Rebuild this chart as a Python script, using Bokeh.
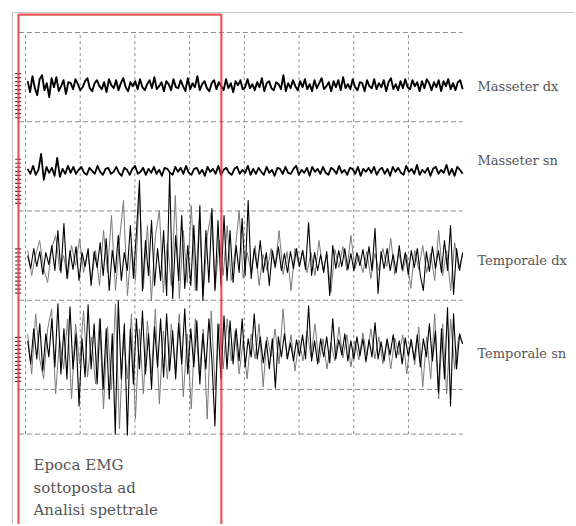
import numpy as np
from bokeh.plotting import figure
from bokeh.models import Range1d
from bokeh.core.properties import value
from bokeh.embed import file_html
from bokeh.resources import INLINE

# ---------------- data ----------------
channels = ["Masseter dx", "Masseter sn", "Temporale dx", "Temporale sn"]
offsets = [3.41, 2.45, 1.445, 0.455]          # baseline of each trace (grid units)
label_y = [3.39, 2.57, 1.44, 0.405]           # label vertical position
t_start, t_end = 0.04, 7.99                    # time span of recordings (grid units)
time_grid = [0, 1, 2, 3, 4, 5, 6, 7]
amp_grid = [4, 3, 2, 1, 0, -0.5]
epoch = [-0.128, 3.58]                         # EMG epoch used for spectral analysis
gain = 1 / 89.25                               # amplitude units -> grid units

masseter_dx = [4, -7, 9, -3, -10, 6, 10, -5, 2, -12, 7, -2, 8, -6, -1, 5, -9, 3,
               2, -4, 6, 1, -5, -2, 4, 7, -3, -6, 2, 5, -1, -4, 3, -7, 6, 0, -3, 5,
               -5, 2, 7, -2, -6, 3, -1, 4, -4, 6, -2, -5, 1, 5, -3, 8, -4, -1, 3, -6,
               4, 1, -5, 6, -2, -3, 5, -1, -6, 7, -4, 2, -2, 9, -5, 1, 4, -3, -6, 2,
               5, -4, 3, -1, -5, 6, -3, 2, -7, 4, 0, 5, -4, -2, 6, -3, 1, -5, 3, -2,
               7, -6, 2, 4, -3, -5, 3, 1, -4, 10, -6, 2, -3, 5, -1, -5, 4, -2, 6, -4,
               1, -6, 5, -3, 2, 7, -4, -1, 3, -6, 4, -2, 5, -5, 8, -3, 1, -4, 6, -2,
               -5, 3, 2, -6, 5, -1, -3, 6, -4, 2, -2, 5, -6, 3, 7, -4, 1, -5, 4, -3,
               6, -2, -4, 5, -1, 3, -6, 4, -3, 6, 2, -5, 3, -2, 5, -6, 4, -1, 6, -4,
               2, -5, 3, 5, -4]

masseter_sn = [2, -3, 5, -4, 1, 17, -9, 4, -2, 3, -5, 13, -6, 2, -3, 5, -2, 4,
               -3, 1, 4, -2, -4, 3, 0, -3, 5, -1, -4, 2, 3, -3, -1, 4, -2, -5, 3, 1,
               -4, 2, 5, -3, -1, 3, -4, 2, -2, 4, -3, 1, -5, 3, 2, -2, -4, 4, -1, 3,
               -3, 5, -2, -4, 2, 3, -3, 1, -5, 4, -1, 2, -3, 5, -4, 1, 3, -2, -4, 2,
               4, -3, 1, -2, 5, -4, 2, -3, 3, -1, -4, 4, -2, 1, -5, 3, 2, -3, 4, -2,
               -3, 2, 5, -4, 1, -2, 3, -5, 4, -1, 2, -3, 4, -2, -4, 3, 1, -3, 5, -2,
               1, -4, 3, 2, -3, 4, -5, 2, -1, 3, -2, 4, -4, 1, 3, -3, 2, -5, 4, -1,
               3, -2, -4, 5, -1, 2, -3, 6, -4, 1, -2, 3, -5, 2, 4, -3, 1, -2, 6, -4,
               2, -5, 4, 1, -3]

temporale_dx = [5, -8, 12, -6, 9, -14, 8, -4, 15, -10,
                30, -12, 37, -18, 10, -9, 14, -20, 8, -6,
                12, -25, 9, -7, 18,
                -15, 22, -30, 10, -12, 25, -20, 8, -10, 35,
                -18, 28, 80, -30, 20, -15, 40, -25, 12, -20,
                30, -35, 88, -38, 25, -20, 45, -28, 15, -25,
                35, -30, 55, -40, 30, -22, 52, -30, 40, -25,
                45, -20, 30,
                -22, 15, -12, 42, -15, 60, -18, 12, -8, 20,
                -12, 8, -25, 10, -6, 14, -10, 7, -12, 9,
                -8, 12, -6, 10, -9, 38, -15, 8, -10, 6,
                -12, 9, -35, 15, -8, 10, -6, 12, -9, 7,
                -10, 8, -5, 11, -8, 14, -10, 32, -33, 9,
                -8, 12, -10, 6, -12, 15, -9, 8, -14, 10,
                -7, 12, -15, -30, 9, -11, 14, -8, 10, -12,
                20, -10, 35, -34, 12, -10, 8]

temporale_dx_gray = [10, -15, 6, 20, -8, -22, 12, 25, -10, 5, -18, 15, -5, 22, -12, 8, -20, 10,
                     -25, 30, -12, 45, -30, 20, 60, -35, 15, -20, 70, -28, 35, -40, 25, 50,
                     -32, 18, -25, 65, -38, 30, -22, 55, -30, 40, -35, 25, 48, -28, 20,
                     -15, 35, -20, 10, 50, -18, 8, -12, 15, -25, 6, -10, 12, -8, 30, -14,
                     9, -30, 12, -6, 10, -12, 8, -15, 20, -9, 6, -32, 11, -7, 14, -10, 25,
                     -8, 5, -12, 9, -18, 7, -10, 12, -6, 22, -14, 8, -11, 6, -28, 10, -9,
                     15, -12, 7, -20, 30, -15, 10, -30, 18, -8, 5]

temporale_sn = [8, -15, 20, -10, 25, -22, 15, -8, 30, -18,
                45, -25, 20, -30, 42, -20, 15, -57, 10, -28,
                44, -20, 25, -35, 30,
                -40, 20, -50, 15, -85, 48, -30, 25, -86, 20,
                -35, 30, -20, 38, -25, 15, -40, 22, -18, 30,
                -28, 35, -22, 18, -30, 25, -15, 40, -25, 20,
                -18, 28, -35, 15, -20, 30, -12, -77, 25, -30,
                33, -20, 28,
                -15, 20, -12, 30, -18, 10, -8, 35, -10, 12,
                -14, 8, -20, 10, -39, 12, -8, 15, -10, 6,
                -12, 9, -7, 14, -10, 43, -12, 8, -15, 10,
                -8, 12, -14, 30, -10, 9, -6, 15, -12, 8,
                -10, 12, -7, 10, -13, 9, -8, 26, -10, 7,
                -12, 10, -6, 14, -9, 8, -15, 11, -7, 9,
                -11, 14, -18, 10, -8, 25, -12, 18, -44, 20,
                -30, 41, -57, 35, -20, 15, 5]

temporale_sn_gray = [15, -25, 35, -10, -30, 20, 40, -45, 10, -20, 30, -50, 25, -15, 38, -28, 12, -35,
                     30, -60, 22, -40, 45, -80, 15, -30, 35, -70, 20, -45, 28, -25, 40, -55,
                     18, -30, 25, -20, 35, -48, 15, -60, 30, -25, 20, -70, 38, -40, 25,
                     -20, 30, -12, 18, -25, 8, -30, 15, -10, 25, -38, 12, -8, 20, -15, 40,
                     -10, 14, -22, 9, -12, 18, -8, 25, -14, 10, -20, 6, -12, 22, -9, 14,
                     -18, 8, -11, 16, -7, 20, -10, 12, -15, 9, -20, 11, -6, 14, -25, 10,
                     -16, 22, -38, 12, -30, 35, -50, 25, -45, 30, -20, 12, 6]

signals = [masseter_dx, masseter_sn, temporale_dx, temporale_sn]
widths = [1.9, 1.8, 1.1, 1.1]
gray_signals = [(temporale_dx_gray, 2), (temporale_sn_gray, 3)]

caption = ["Epoca EMG", "sottoposta ad", "Analisi spettrale"]
caption_y = [-0.85, -1.105, -1.355]

# ---------------- figure ----------------
X0, X1 = -0.457, 10.035
Y0, Y1 = -1.5126, 4.3585
p = figure(width=574, height=524, x_range=Range1d(X0, X1), y_range=Range1d(Y0, Y1),
           output_backend="svg", toolbar_location=None, min_border=0,
           x_axis_type=None, y_axis_type=None, outline_line_color=None,
           background_fill_color="white", border_fill_color="white")
p.grid.visible = False

# outer frame of the figure panel
p.line([-0.2376, -0.2376, X1 + 1], [Y0 - 1, 4.224, 4.224], line_color="#c4c4c4", line_width=1.2)

# dashed grid
for g in amp_grid:
    p.line([-0.12, 7.99], [g, g], line_color="#8c8c8c", line_width=1, line_dash="5 3")
for g in time_grid:
    p.line([g, g], [-0.5, 4.0], line_color="#8c8c8c", line_width=1, line_dash="3 3")

# calibration tick columns at the left edge
for off in offsets:
    ys = [off + 0.13 - k * 0.045 for k in range(12)]
    p.segment(x0=[-0.19] * len(ys), y0=ys, x1=[-0.08] * len(ys), y1=ys,
              line_color="#6b3030", line_width=1.2)

# EMG traces: lighter overlapping sweeps first, then main sweeps
for sig, ch in gray_signals:
    t = np.linspace(t_start, t_end, len(sig))
    y = offsets[ch] + np.array(sig, dtype=float) * gain
    p.line(t, y, line_color="#7a7a7a", line_width=1.0, line_join="round")

for sig, off, w in zip(signals, offsets, widths):
    t = np.linspace(t_start, t_end, len(sig))
    y = off + np.array(sig, dtype=float) * gain
    p.line(t, y, line_color="black", line_width=w, line_join="round")

# epoch box (red)
p.line([epoch[0], epoch[0], epoch[1], epoch[1]], [Y0 - 1, 4.2, 4.2, Y0 - 1],
       line_color="#e0393e", line_width=2.2, line_alpha=0.85)

# channel labels
p.text(x=[8.26] * 4, y=label_y, text=channels, text_font=value("DejaVu Serif"),
       text_font_size="13px", text_color="#555555", text_baseline="middle")

# caption
p.text(x=[0.146] * 3, y=caption_y, text=caption, text_font=value("DejaVu Serif"),
       text_font_size="15px", text_color="#555555", text_baseline="middle")

open("out.html", "w").write(file_html(p, INLINE))
